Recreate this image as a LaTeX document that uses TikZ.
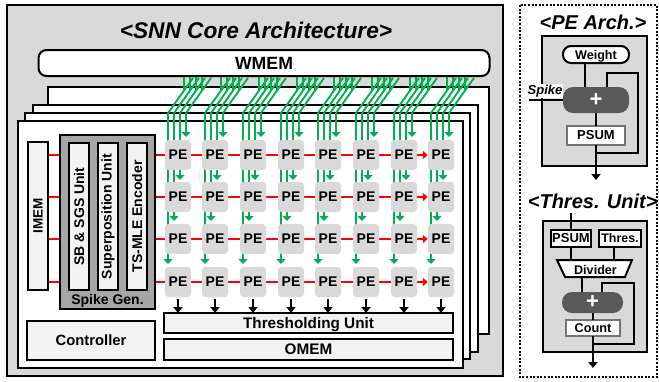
\documentclass[tikz,border=0pt]{standalone}
\usepackage{fontspec}
\usepackage{graphicx}
\setmainfont{Liberation Sans}
\usetikzlibrary{arrows.meta,calc}
\pgfdeclarelayer{bg}
\pgfdeclarelayer{mid}
\pgfsetlayers{bg,mid,main}
\definecolor{grn}{HTML}{00B050}
\definecolor{lite}{HTML}{F2F2F2}
\definecolor{pane}{HTML}{D9D9D9}
\definecolor{spk}{HTML}{A6A6A6}
\definecolor{blob}{HTML}{595959}
\newcommand{\fsz}[1]{\fontsize{#1}{#1}\selectfont\bfseries}
\newcommand{\rnode}[7][]{%
  \node[#2,#1,inner sep=0pt,outer sep=0pt,minimum width={(#5-#3)*1pt},minimum height={(#6-#4)*1pt}] (#7) at ({(#3+#5)/2},{(#4+#6)/2})}
\tikzset{
  frame/.style={draw=black,line width=2pt},
  whitebox/.style={frame,fill=white},
  litebox/.style={frame,fill=lite},
  panebox/.style={frame,fill=pane},
  pebox/.style={fill=pane,rounded corners=3.5pt,minimum width=26pt,minimum height=30pt,inner sep=0pt,font=\fsz{14}},
  redline/.style={draw=red,line width=2pt},
  redarrow/.style={redline,-{Triangle[width=8pt,length=5pt]}},
  grnline/.style={draw=grn,line width=1.9pt},
  grnarrow/.style={grnline,-{Triangle[width=9pt,length=5pt]}},
  blk/.style={draw=black,line width=2pt},
  blkarrow/.style={blk,-{Triangle[width=9pt,length=6pt]}},
  blobbox/.style={fill=blob,rounded corners=10pt,text=white},
  grayframe/.style={draw=black!55,line width=2pt,fill=white},
  ttl/.style={font=\fontsize{22.7}{22.7}\selectfont\bfseries\itshape,inner sep=0pt},
  subttl/.style={font=\fontsize{20}{20}\selectfont\bfseries\itshape,inner sep=0pt},
}
\begin{document}
\begin{tikzpicture}[x=1pt,y=-1pt]
\useasboundingbox (0,0) rectangle (659,381);
\begin{pgfonlayer}{bg}
\rnode{panebox}{7}{5}{503}{376}{outer} {};
\rnode{whitebox}{48}{87}{489}{334}{lay3} {};
\rnode{whitebox}{33}{105}{478}{352}{lay2} {};
\rnode{whitebox}{25}{113}{470}{359}{lay1} {};
\rnode{whitebox}{18}{121}{463}{368}{lay0} {};
\end{pgfonlayer}
\node[ttl] (title) at (256,30) {<SNN Core Architecture>};
\node[whitebox,rounded corners=8pt,inner sep=0pt,minimum width=451pt,minimum height=26pt,font=\fsz{17.7}] (wmem) at (264,63) {WMEM};
% PEs
\foreach \r/\yy in {1/155,2/197,3/239,4/282}{
  \foreach \c/\xx in {1/178,2/215,3/253,4/291,5/328,6/366,7/404,8/441}{
    \node[pebox] (pe-\r-\c) at (\xx,\yy) {PE};
  }
}
\rnode[font=\fsz{13.5}]{litebox}{28}{142}{48}{290}{imem} {\rotatebox{90}{IMEM}};
\rnode{frame,fill=spk}{60}{135}{155}{309}{spkgen} {};
\node[font=\fsz{14},inner sep=0pt,text depth=0pt] (spklabel) at (107.5,299) {Spike Gen.};
\rnode[font=\fsz{14}]{litebox}{69}{143}{89}{290}{sb} {\rotatebox{90}{SB \& SGS Unit}};
\rnode[font=\fsz{14}]{litebox}{98}{143}{118}{290}{sup} {\rotatebox{90}{Superposition Unit}};
\rnode[font=\fsz{14}]{litebox}{127}{143}{147}{290}{ts} {\rotatebox{90}{TS-MLE Encoder}};
\rnode[font=\fsz{14.8}]{litebox}{27}{321}{155}{360}{ctrl} {Controller};
\rnode[font=\fsz{15.3},text depth=0pt]{litebox}{164}{313}{453}{333}{thr} {Thresholding Unit};
\rnode[font=\fsz{15.3}]{litebox}{164}{339}{453}{360}{omem} {OMEM};
% green buses
\begin{pgfonlayer}{mid}
\foreach \c in {1,...,8}{
  \foreach \i/\dx/\ey in {0/-10/264,1/-4/221,2/2/180,3/8/137}{
    \coordinate (b\c-\i) at ($(pe-1-\c.center)+(\dx,0)$);
    \draw[grnline] (b\c-\i |- wmem.south) ++(16,0) -- ++(0,14);
    \draw[grnline] ($(b\c-\i)+(25,-77)$) -- ($(b\c-\i)+(0,-42)$);
    \coordinate (e\c-\i) at ($(b\c-\i)+(0,-42)$);
    \draw[grnarrow] (e\c-\i) -- (e\c-\i |- 0,\ey);
  }
}
\foreach \r in {1,...,4}{
  \draw[redline] (imem.east |- pe-\r-1.center) -- (spkgen.west |- pe-\r-1.center);
  \draw[redline] (spkgen.east |- pe-\r-1.center) -- (pe-\r-1.west);
  \foreach \c/\n in {1/2,2/3,3/4,4/5,5/6,6/7}{
    \draw[redline] (pe-\r-\c.east) -- (pe-\r-\n.west);
  }
  \draw[redarrow] (pe-\r-7.east) -- (pe-\r-8.west);
}
\foreach \c in {1,...,8}{
  \draw[blkarrow] ($(pe-4-\c.south)+(0,2)$) -- (pe-4-\c.south |- thr.north);
}
\end{pgfonlayer}
% right panel
\draw[black,line width=1.8pt,dash pattern=on 2pt off 1.6pt] (520,5) rectangle (657,377);
\node[subttl] (t1) at (593,22) {<PE Arch.>};
\rnode{panebox}{542}{36}{647}{166}{pa} {};
\rnode[font=\fsz{12.6},text depth=0pt]{whitebox,rounded corners=8pt}{563}{46}{629}{63}{wt} {Weight};
\rnode[font=\fsz{22}]{blobbox}{563}{87}{629}{113}{add1} {+};
\rnode[font=\fsz{13}]{grayframe}{567}{126}{625}{145}{ps1} {PSUM};
\coordinate (sp) at (529,100);
\draw[blk] (wt.south -| 585,0) -- (585,87);
\draw[blk] (sp) -- (add1.west |- sp);
\node[fill=white,inner sep=0.5pt,font=\fontsize{13}{13}\selectfont\bfseries\itshape] (splab) at (545,91) {Spike};
\draw[blk] (607,87) |- (638,73) |- (596,153);
\draw[blk] (596,113) -- (596,126);
\draw[blkarrow] (596,145) -- (596,180);
% thres
\node[subttl] (t2) at (592.7,201.7) {<Thres. Unit>};
\rnode{panebox}{543}{221}{647}{352}{pb} {};
\rnode[font=\fsz{13}]{whitebox}{551}{230}{591}{247}{ps2} {PSUM};
\rnode[font=\fsz{12.4}]{whitebox}{599}{230}{641}{247}{th2} {Thres.};
\fill[white] (557,260) -- (632,260) -- (625,277) -- (565,277) -- cycle;
\draw[black,line width=2pt] (557,260) -- (632,260) -- (625,277) -- (565,277) -- cycle;
\node[font=\fsz{12.6},inner sep=0pt] (div) at (595.5,269.5) {Divider};
\rnode[font=\fsz{22}]{blobbox}{562}{292}{623}{313}{add2} {+};
\rnode[font=\fsz{12.7}]{grayframe}{566}{320}{620}{336}{cnt} {Count};
\draw[blk] (571,213) -- (571,230);
\draw[blk] (571,247) -- (571,260);
\draw[blk] (614,247) -- (614,260);
\draw[blk] (582,277) -- (582,292);
\draw[blk] (602,292) |- (634,283) |- (593,344);
\draw[blk] (593,313) -- (593,320);
\draw[blkarrow] (593,336) -- (593,368);
\end{tikzpicture}
\end{document}
